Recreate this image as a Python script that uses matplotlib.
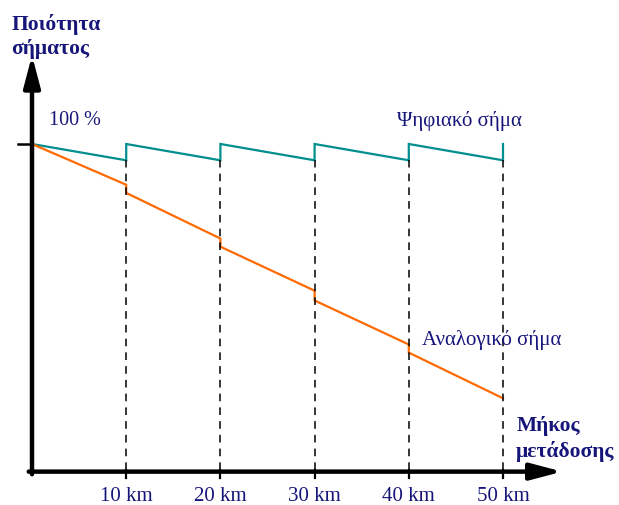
import matplotlib.pyplot as plt

# distances (km) where the signal is regenerated / amplified
km_marks = [10, 20, 30, 40, 50]
tick_labels = ['10 km', '20 km', '30 km', '40 km', '50 km']

# digital signal: starts at 100 %, drops to this level before each repeater
digital_top = 100
digital_low = 95

# analog signal quality (%) just before and just after each amplifier
analog_before = [87.5, 71, 55, 38.5, 22]
analog_after = [85, 68.5, 52, 36]

teal = '#008E8E'
orange = '#FF6A00'
navy = '#16167A'

plt.rcParams['font.family'] = ['Liberation Serif', 'DejaVu Serif']

fig = plt.figure(figsize=(6.19, 5.05), dpi=100)
ax = fig.add_axes([0, 0, 1, 1])
ax.set_xlim(-32 / 9.42, (619 - 32) / 9.42)
ax.set_ylim(-35 / 3.26, (505 - 35) / 3.26)
ax.axis('off')

# sawtooth for the digital signal
dx, dy = [0], [digital_top]
for k in km_marks:
    dx += [k, k]
    dy += [digital_low, digital_top]
ax.plot(dx, dy, color=teal, lw=1.6, solid_joinstyle='miter')

# analog signal: linear loss with a small step at each amplifier
ax_x, ax_y = [0], [100]
for i, k in enumerate(km_marks):
    ax_x.append(k)
    ax_y.append(analog_before[i])
    if i < len(analog_after):
        ax_x.append(k)
        ax_y.append(analog_after[i])
ax.plot(ax_x, ax_y, color=orange, lw=1.6, solid_joinstyle='miter')

# dashed guides and ticks
for k, lab in zip(km_marks, tick_labels):
    ax.plot([k, k], [0, digital_low], color='black', lw=1.1, ls=(0, (5, 4)))
    ax.plot([k, k], [0, -2.4], color='black', lw=1.6)
    ax.text(k, -8.2, lab, ha='center', va='center', fontsize=15, color=navy)

# axes with arrow heads
arrow = dict(arrowstyle='-|>,head_length=1.9,head_width=0.5', lw=3.2,
             color='black', shrinkA=0, shrinkB=0, mutation_scale=10)
ax.annotate('', xy=(56.3, -0.5), xytext=(-0.35, -0.5), arrowprops=arrow)
ax.annotate('', xy=(0, 127.2), xytext=(0, -1.3), arrowprops=arrow)
ax.plot([-1.5, 0], [100, 100], color='black', lw=1.8)

ax.text(1.8, 107.2, '100 %', ha='left', va='center', fontsize=14.5, color=navy)
ax.text(-2.2, 133.0, 'Ποιότητα\nσήματος', ha='left', va='center', fontsize=15.5,
        fontweight='bold', color=navy, linespacing=1.25)
ax.text(38.8, 107.2, 'Ψηφιακό σήμα', ha='left', va='center', fontsize=15, color=navy)
ax.text(41.4, 40, 'Αναλογικό σήμα', ha='left', va='center', fontsize=15, color=navy)
ax.text(51.4, 9.4, 'Μήκος\nμετάδοσης', ha='left', va='center', fontsize=15.5,
        fontweight='bold', color=navy, linespacing=1.33)

fig.savefig('out.png', dpi=100)
